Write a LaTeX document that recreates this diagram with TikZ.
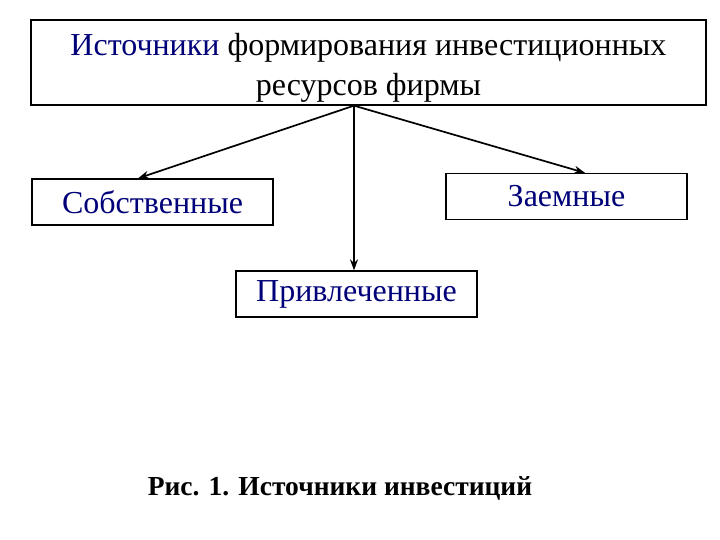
\documentclass[tikz,border=0pt]{standalone}
\usepackage{fontspec}
\setmainfont{Liberation Serif}
\usepackage{xcolor}
\usepackage{tikz}
\usetikzlibrary{arrows.meta, positioning}
\definecolor{srcnavy}{RGB}{0,0,120}

\begin{document}
\begin{tikzpicture}[
  x=1pt, y=-1pt,
  box/.style={
    rectangle, draw=black, line width=1.3pt,
    minimum width=241pt, minimum height=46pt,
    inner sep=0pt, font=\fontsize{32}{36}\selectfont,
    text=srcnavy
  },
  arrow/.style={-{Stealth[length=11pt,width=8pt]}, line width=1.7pt},
  caption/.style={font=\fontsize{27.5}{32}\selectfont\bfseries}
]
\useasboundingbox (0,0) rectangle (720,540);

\node[box, text=black, minimum width=675pt, minimum height=85pt,
      align=center, font=\fontsize{32}{40}\selectfont]
  (sources) at (368.5,62.5)
  {\rule{0pt}{32pt}\textcolor{srcnavy}{Источники} формирования инвестиционных\\
   ресурсов фирмы};

\node[box] (own)      at (152.5,202) {Собственные};
\node[box] (borrowed) at (566.5,196.5) {Заемные};
\node[box] (raised)   at (356.5,294) {Привлеченные};

\coordinate (apex) at ([xshift=-14.5pt]sources.south);

\draw[arrow] (apex) -- ([xshift=-14.5pt]own.north);
\draw[arrow] (apex) -- ([xshift=18.5pt]borrowed.north);
\draw[arrow] (apex) -- (apex |- raised.north);

\node[caption] (fig) at (340,488) {Рис. 1. Источники инвестиций};
\end{tikzpicture}
\end{document}
